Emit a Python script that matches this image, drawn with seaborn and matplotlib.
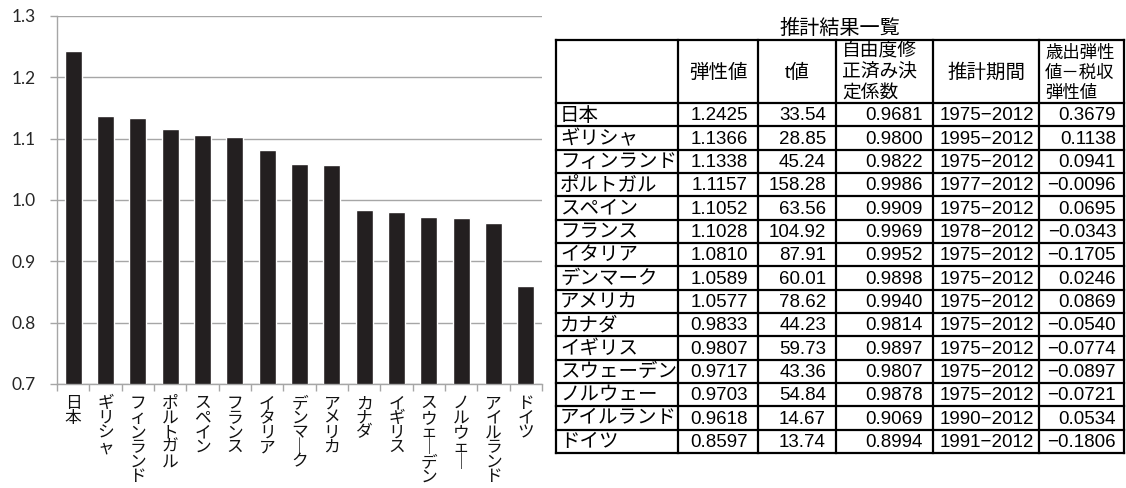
import numpy as np
import pandas as pd
import matplotlib
matplotlib.use("Agg")
import matplotlib.pyplot as plt
import seaborn as sns

# ---- data -------------------------------------------------------------
countries = ["日本", "ギリシャ", "フィンランド", "ポルトガル", "スペイン", "フランス",
             "イタリア", "デンマーク", "アメリカ", "カナダ", "イギリス", "スウェーデン",
             "ノルウェー", "アイルランド", "ドイツ"]
elasticity = [1.2425, 1.1366, 1.1338, 1.1157, 1.1052, 1.1028, 1.0810, 1.0589,
              1.0577, 0.9833, 0.9807, 0.9717, 0.9703, 0.9618, 0.8597]
t_values = [33.54, 28.85, 45.24, 158.28, 63.56, 104.92, 87.91, 60.01,
            78.62, 44.23, 59.73, 43.36, 54.84, 14.67, 13.74]
adj_r2 = [0.9681, 0.9800, 0.9822, 0.9986, 0.9909, 0.9969, 0.9952, 0.9898,
          0.9940, 0.9814, 0.9897, 0.9807, 0.9878, 0.9069, 0.8994]
periods = ["1975−2012", "1995−2012", "1975−2012", "1977−2012", "1975−2012",
           "1978−2012", "1975−2012", "1975−2012", "1975−2012", "1975−2012",
           "1975−2012", "1975−2012", "1975−2012", "1990−2012", "1991−2012"]
spend_minus_tax = [0.3679, 0.1138, 0.0941, -0.0096, 0.0695, -0.0343, -0.1705,
                   0.0246, 0.0869, -0.0540, -0.0774, -0.0897, -0.0721, 0.0534,
                   -0.1806]
y_ticks = [0.7, 0.8, 0.9, 1.0, 1.1, 1.2, 1.3]
table_title = "推計結果一覧"
table_headers = ["", "弾性値", "t値", "自由度修\n正済み決\n定係数", "推計期間",
                 "歳出弾性\n値－税収\n弾性値"]

# ---- figure -----------------------------------------------------------
W, H = 1126, 488
sns.set_theme(style="white")
plt.rcParams["font.family"] = ["Noto Sans CJK JP", "DejaVu Sans"]
fig = plt.figure(figsize=(W / 100, H / 100), dpi=100)
fig.patch.set_facecolor("white")

GRAY = "#a6a6a6"

# ---- bar chart ----------------------------------------------------------
ax = fig.add_axes([57 / W, 1 - 384 / H, 485 / W, 368 / H])
df = pd.DataFrame({"country": countries, "elasticity": elasticity})
sns.barplot(data=df, x="country", y="elasticity", color="#231f20",
            saturation=1, width=0.52, ax=ax)
ax.set_xlim(-0.5, len(countries) - 0.5)
ax.set_ylim(y_ticks[0], y_ticks[-1])
ax.set_xlabel("")
ax.set_ylabel("")
ax.set_facecolor("white")

ax.set_yticks(y_ticks)
ax.set_yticklabels([f"{v:.1f}" for v in y_ticks], family=["Lato", "DejaVu Sans"],
                   fontsize=12.5, color="#262626")
ax.yaxis.grid(True, color=GRAY, lw=1.0)
ax.set_axisbelow(True)
ax.tick_params(axis="y", which="major", direction="out", length=5, width=1,
               color=GRAY, pad=10, left=True)

# category names stacked one character per line (vertical writing)
vertical_labels = ["\n".join(c if c != "ー" else "｜" for c in name)
                   for name in countries]
ax.set_xticks(range(len(countries)))
ax.set_xticklabels(vertical_labels, rotation=0, fontsize=12, linespacing=0.82,
                   color="#111111", family=["Noto Sans CJK JP"])
ax.set_xticks(np.arange(-0.5, len(countries), 1.0), minor=True)
ax.tick_params(axis="x", which="major", length=0, pad=8)
ax.tick_params(axis="x", which="minor", direction="out", length=5, width=1,
               color=GRAY, bottom=True)

for side in ("top", "right"):
    ax.spines[side].set_visible(False)
for side in ("left", "bottom"):
    ax.spines[side].set_color(GRAY)
    ax.spines[side].set_linewidth(1.0)

# ---- results table ------------------------------------------------------
tax = fig.add_axes([556 / W, 1 - 453 / H, 568 / W, 413 / H])
tw, th = 568, 413
tax.set_xlim(0, tw)
tax.set_ylim(th, 0)
tax.axis("off")

col_edges = [0, 122, 202, 280, 377, 483, 568]
header_h = 63
row_h = (th - header_h) / len(countries)
TFONT = ["Liberation Sans", "Noto Sans CJK JP"]
LW = 1.6

for x in col_edges:
    tax.plot([x, x], [0, th], color="black", lw=LW, clip_on=False,
             solid_capstyle="projecting")
row_edges = [0, header_h] + [header_h + row_h * (i + 1) for i in range(len(countries))]
for y in row_edges:
    tax.plot([0, tw], [y, y], color="black", lw=LW, clip_on=False,
             solid_capstyle="projecting")

tax.text(tw / 2, -2, table_title, ha="center", va="bottom", fontsize=14.5,
         family=TFONT, color="black")

# header cells
for j, label in enumerate(table_headers):
    if not label:
        continue
    x0, x1 = col_edges[j], col_edges[j + 1]
    if "\n" in label:
        fs = 13.5 if j == 3 else 12.5
        tax.text(x0 + 6, 2 if j == 3 else 5, label, ha="left", va="top",
                 fontsize=fs, linespacing=1.3, family=TFONT, color="black")
    else:
        tax.text((x0 + x1) / 2, header_h / 2 + 1, label, ha="center",
                 va="center", fontsize=14, family=TFONT, color="black")


def fmt_signed(v):
    return f"{v:.4f}".replace("-", "−")


for i, name in enumerate(countries):
    yc = header_h + row_h * (i + 0.5) + 1
    cells = [name, f"{elasticity[i]:.4f}", f"{t_values[i]:.2f}",
             f"{adj_r2[i]:.4f}", periods[i], fmt_signed(spend_minus_tax[i])]
    pads = [None, 10, 10, 10, 5, 8]
    for j, txt in enumerate(cells):
        if j == 0:
            tax.text(col_edges[0] + 4, yc, txt, ha="left", va="center",
                     fontsize=14, family=TFONT, color="black")
        else:
            tax.text(col_edges[j + 1] - pads[j], yc, txt, ha="right",
                     va="center", fontsize=13.5, family=TFONT, color="black")

fig.savefig("out.png", dpi=100, facecolor="white")
